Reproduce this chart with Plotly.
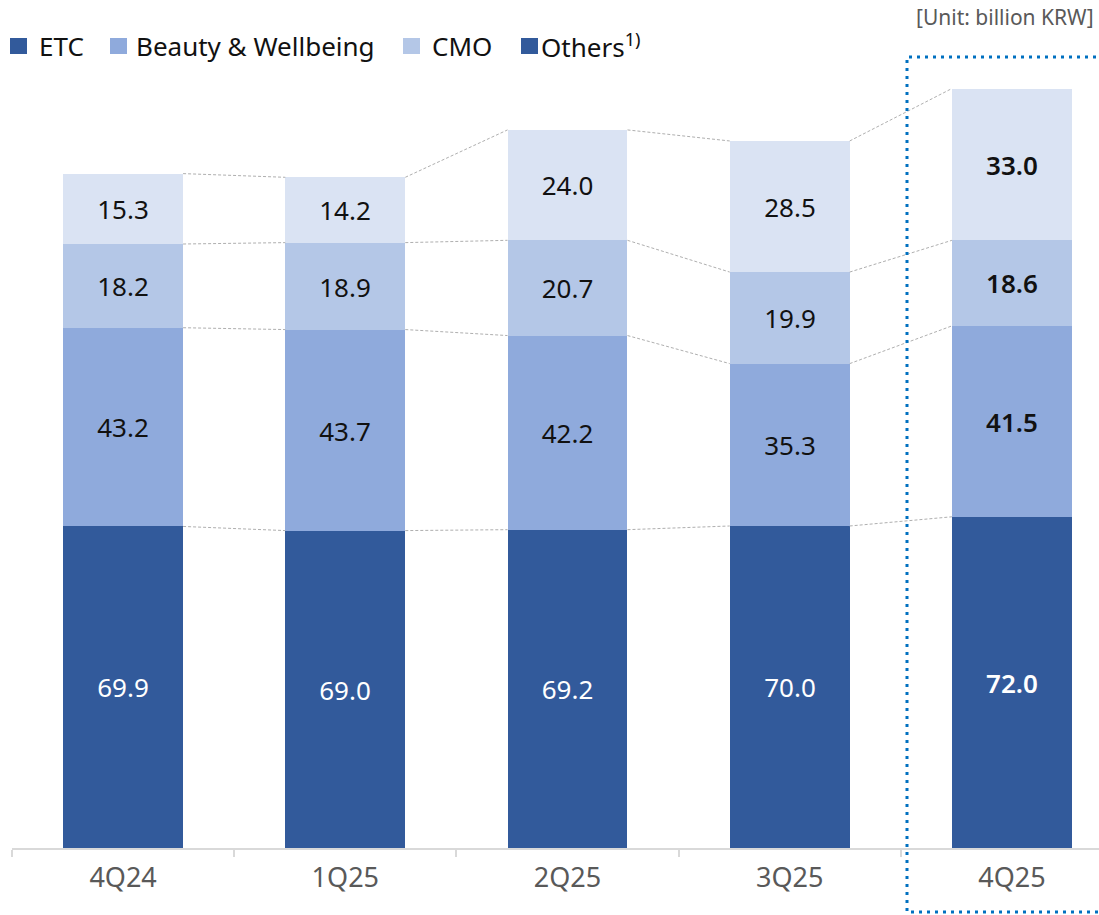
import plotly.graph_objects as go

quarters = ["4Q24", "1Q25", "2Q25", "3Q25", "4Q25"]
etc = [69.9, 69.0, 69.2, 70.0, 72.0]
beauty = [43.2, 43.7, 42.2, 35.3, 41.5]
cmo = [18.2, 18.9, 20.7, 19.9, 18.6]
others = [15.3, 14.2, 24.0, 28.5, 33.0]

series = [
    ("ETC", etc, "#325A9B", "white"),
    ("Beauty & Wellbeing", beauty, "#8FAADC", "#111111"),
    ("CMO", cmo, "#B4C7E7", "#111111"),
    ("Others", others, "#DAE3F3", "#111111"),
]
legend_colors = ["#325A9B", "#8FAADC", "#B4C7E7", "#325A9B"]
legend_labels = ["ETC", "Beauty & Wellbeing", "CMO", "Others<sup>1)</sup>"]

W, H = 1099, 915
L, R, T, B = 12, 0, 60, 67
PW, PH = W - L - R, H - T - B
YMAX = 171.3
BW = 0.54
FONT = "Noto Sans"


def px_x(p):
    return (p - L) / PW


def px_y(p):
    return (H - B - p) / PH


fig = go.Figure()
n = len(quarters)
for name, vals, color, tcol in series:
    texts = [f"{v:.1f}" for v in vals]
    weights = [400] * (n - 1) + [600]
    fig.add_trace(go.Bar(
        x=quarters, y=vals, name=name, marker_color=color, marker_line_width=0,
        width=BW, text=texts, textposition="inside", insidetextanchor="middle",
        textangle=0, textfont=dict(family=FONT, size=26, color=tcol, weight=weights),
        constraintext="none", showlegend=False, hoverinfo="skip",
    ))

# connector dashed lines
cums = []
for i in range(n):
    c, acc = [], 0
    for _, vals, _, _ in series:
        acc += vals[i]
        c.append(acc)
    cums.append(c)
for i in range(n - 1):
    for k in range(len(series)):
        fig.add_shape(type="line", xref="x", yref="y",
                      x0=i + BW / 2, y0=cums[i][k], x1=i + 1 - BW / 2, y1=cums[i + 1][k],
                      line=dict(color="#AFAFAF", width=1, dash="3px,2px"), layer="above")

# highlight box
fig.add_shape(type="path", xref="paper", yref="paper",
              path=f"M {px_x(1120)},{px_y(57)} L {px_x(907)},{px_y(57)} L {px_x(907)},{px_y(912)} L {px_x(1120)},{px_y(912)}",
              line=dict(color="#0070C0", width=3, dash="3px,5px"), layer="above")

# custom legend
sq_x = [10, 110, 403, 521]
tx_x = [37, 134, 430, 539]
for sx, tx, col, lab in zip(sq_x, tx_x, legend_colors, legend_labels):
    fig.add_shape(type="rect", xref="paper", yref="paper",
                  x0=px_x(sx), x1=px_x(sx + 17), y0=px_y(54), y1=px_y(38),
                  fillcolor=col, line_width=0)
    fig.add_annotation(xref="paper", yref="paper", x=px_x(tx), y=px_y(46),
                       xanchor="left", yanchor="middle", text=lab, showarrow=False,
                       font=dict(family=FONT, size=26, color="#111111"))

fig.add_annotation(xref="paper", yref="paper", x=px_x(1096), y=px_y(17),
                   xanchor="right", yanchor="middle", text="[Unit: billion KRW]",
                   showarrow=False, font=dict(family=FONT, size=21, color="#595959"))

fig.update_layout(
    width=W, height=H, barmode="stack", bargap=0,
    margin=dict(l=L, r=R, t=T, b=B, autoexpand=False),
    plot_bgcolor="white", paper_bgcolor="white",
    font=dict(family=FONT),
    xaxis=dict(type="category", range=[-0.5, -0.5 + PW / 222.2], showline=True,
               linecolor="#D9D9D9", linewidth=2, ticks="outside", tickson="boundaries",
               ticklen=7, tickcolor="#D9D9D9", tickwidth=2, showgrid=False,
               tickfont=dict(family=FONT, size=27, color="#595959"), ticklabelstandoff=5),
    yaxis=dict(range=[0, YMAX], visible=False, showgrid=False, zeroline=False),
)

fig.write_html("out.html", config={"displayModeBar": False},
               post_script="document.body.style.margin='0';document.body.style.padding='0';")
